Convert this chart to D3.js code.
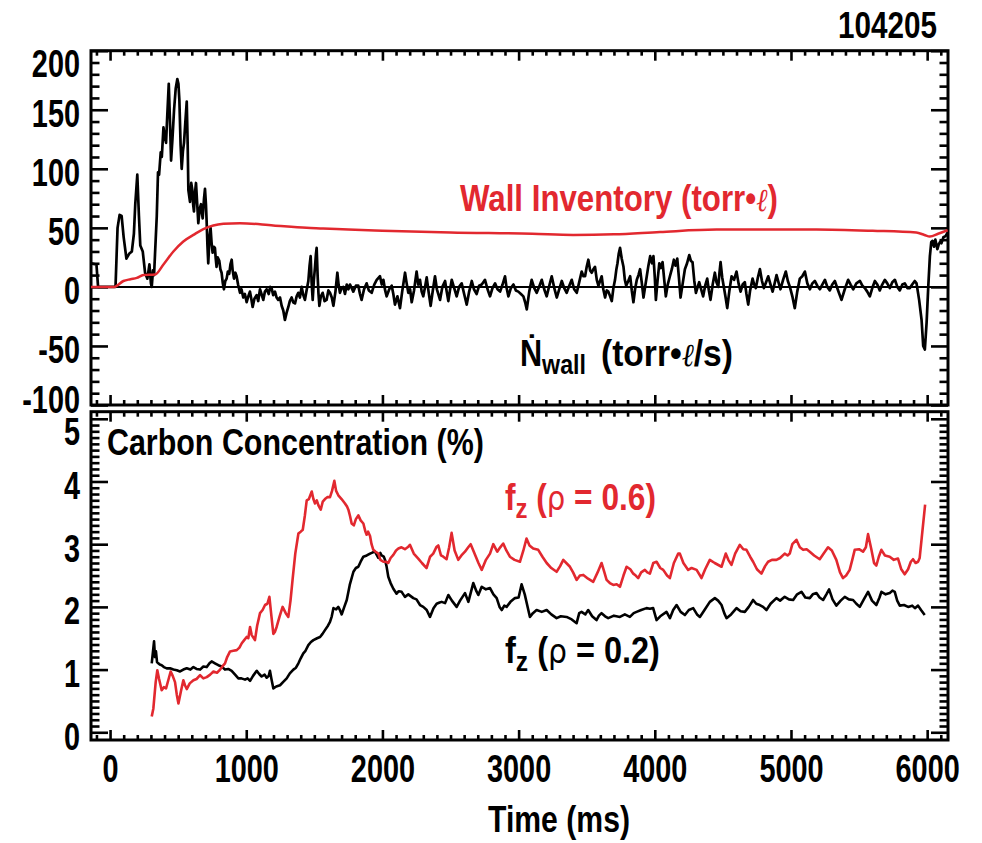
<!DOCTYPE html>
<html><head><meta charset="utf-8">
<script src="https://cdn.jsdelivr.net/npm/d3@7"></script>
<style>
html,body{margin:0;padding:0;background:#fff;}
svg text{font-family:"Liberation Sans Narrow","Arial Narrow","Liberation Sans",sans-serif;font-weight:bold;}
</style></head><body>
<svg id="c" width="982" height="843"></svg>
<script>
// ---------------- DATA ----------------
const shotLabel = "104205";
const xTickValues = [0, 1000, 2000, 3000, 4000, 5000, 6000];
const topYTicks = [-100, -50, 0, 50, 100, 150, 200];
const botYTicks = [0, 1, 2, 3, 4, 5];

// N-dot wall (torr·l/s)
const ndotTime = [-140,-100,-88,40,55,70,85,100,120,140,160,175,185,200,212,222,240,257,274,289,300,306,315,323,335,343,352,360,372,380,392,400,411,420,431,440,448,458,470,482,494,502,509,518,526,535,543,553,563,570,575,587,596,604,610,616,624,631,640,648,658,668,675,680,690,697,704,709,715,721,730,738,745,753,762,770,776,782,790,802,810,819,828,836,846,856,865,875,884,893,900,910,920,929,940,954,965,978,990,1003,1015,1027,1037,1047,1060,1076,1088,1101,1112,1125,1137,1150,1165,1176,1186,1198,1211,1223,1235,1248,1260,1272,1284,1296,1309,1320,1333,1345,1358,1370,1382,1394,1407,1419,1431,1443,1456,1465,1473,1480,1488,1496,1505,1512,1517,1524,1530,1537,1548,1561,1575,1590,1603,1615,1628,1640,1655,1669,1678,1688,1700,1713,1725,1738,1750,
1762,1786,1805,1823,1835,1847,1865,1884,1900,1921,1940,1958,1982,1995,2007,2020,2031,2050,2068,2080,2092,2110,2129,2145,2166,2178,2190,2203,2215,2232,2251,2263,2276,2288,2300,2313,2325,2340,2354,2370,2386,2400,2423,2440,2460,2472,2484,2497,2509,2527,2545,2563,2582,2600,2619,2637,2656,2672,2692,2710,2729,2741,2753,2772,2790,2808,2827,2845,2864,2882,2900,2912,2925,2943,2962,2980,2998,3017,3035,3048,3060,3078,3096,3115,3133,3150,3170,3188,3206,3225,3243,3262,3280,3298,3317,3335,3353,3372,3390,3408,3427,3445,3463,3476,3488,3500,3512,3525,3537,3549,3561,3574,3586,3598,3610,3622,3635,3647,3659,3672,3684,3696,3708,3718,3726,3735,3745,3757,3770,3780,3790,3805,3819,3831,3843,3855,3868,3880,3892,3905,3917,3929,3941,3953,3966,3980,3990,4000,4008,4020,4033,4045,4057,4070,4081,4095,4111,4125,4140,4152,4165,4177,4189,4205,4221,4237,4253,4265,4277,4290,4302,4315,4326,4340,4355,4370,4385,4397,4409,4425,4441,4453,4466,4475,4483,4495,4507,4520,4532,4548,4564,4582,4600,4615,4630,4645,4661,4673,4686,4700,4718,4730,4742,4757,4772,4787,4801,4817,4833,4850,4865,4880,4894,4908,4923,4942,4962,4977,4992,5010,5028,5046,5065,5083,5102,5120,5139,5157,5175,5193,5212,5230,5249,5267,5285,5303,5322,5346,5371,5395,5420,5438,5457,5480,5506,5524,5542,5560,5579,5597,5616,5634,5652,5670,5689,5707,5726,5744,5763,5781,5799,5818,5836,5855,5873,5890,5909,5922,5941,5959,5971,5983,5996,6008,6020,6030,6040,6050,6060,6075,6085,6094,6105,6119,6135,6150];
const ndotValue = [20,19,0,0,50,61,60,42,24,28,30,45,70,95,60,35,30,12,7,19,3,0,14,10,40,60,97,95,114,110,135,128,122,145,172,140,107,125,150,168,176,172,158,120,100,115,122,140,157,120,82,72,88,82,70,64,80,88,70,54,66,70,62,58,75,83,70,56,35,20,42,50,38,29,34,33,24,17,25,22,15,12,3,-2,5,7,13,11,19,23,14,7,12,9,2,-5,-2,-9,-6,-13,-8,-4,-10,-17,-10,-7,-12,-2,-6,-11,-4,-2,-6,0,-1,-7,-4,-9,-11,-9,-16,-20,-28,-22,-17,-12,-9,-13,-14,-8,-5,-9,0,-7,-11,-3,5,18,26,4,-11,5,17,28,33,10,-5,-16,-8,-5,-12,-11,-3,-5,-9,-16,-4,12,2,-5,-1,0,-6,2,-2,
2,-4,1,1,-6,-11,-2,3,-3,-5,2,6,9,2,6,-3,-8,-2,1,-6,-15,-8,-18,-4,12,3,-5,-2,-13,-3,13,2,6,-4,-8,0,8,-5,-16,-3,9,-2,-11,0,5,-4,-12,-2,6,-1,-8,0,3,-6,-15,-4,5,-2,-6,1,2,4,6,-2,-8,-1,3,-2,-4,2,9,-1,-8,-1,2,-3,-4,-6,-8,-13,-19,-4,6,-1,-5,0,6,-2,-8,1,9,-1,-9,-2,5,-1,-5,1,6,-2,-5,4,13,9,9,17,23,14,12,15,17,6,1,5,9,-2,-9,-3,-4,-8,-12,-1,6,15,20,28,33,24,17,6,1,5,9,-3,-13,-2,6,10,15,3,-9,0,9,18,26,20,26,8,-11,5,20,16,21,5,-8,2,9,15,23,18,24,8,-9,3,15,20,27,22,21,5,-5,0,4,-2,-8,1,7,-3,-11,2,12,4,0,12,21,8,0,-9,-18,-3,9,6,13,3,-4,2,4,-6,-15,-3,7,2,-1,8,15,5,-1,4,9,2,-4,3,10,4,-2,6,13,5,0,-8,-18,-4,7,9,13,3,-2,3,5,1,-2,2,6,0,-3,2,5,-3,-11,-2,6,2,-2,3,5,1,-1,-4,-8,-1,5,2,-3,2,6,3,-1,4,6,0,-3,2,3,-1,-1,2,5,3,-11,-28,-50,-53,-30,0,26,38,39,34,40,32,36,38,37,42,43,46];

// Wall inventory (torr·l)
const wallTime = [-140,30,98,150,196,245,330,392,465,538,612,685,758,832,954,1198,1443,1565,1750,2000,2500,3100,3400,3700,4038,4453,5187,5600,5920,5980,6020,6080,6150];
const wallValue = [0,0,5,6.5,7.6,10,10.5,19,30,38.5,44,49,52,53.4,54,52,50,49.5,48.5,47.5,46,45,44,44.5,46.5,48.5,48.6,47.5,46,44,42.7,45,48];

// Carbon concentration f_z (rho = 0.2)
const fz02Time = [306,323,330,337,345,354,365,379,395,416,440,465,490,514,538,563,590,612,635,661,685,710,730,746,770,795,820,844,868,893,918,942,965,991,1010,1028,1050,1077,1095,1113,1135,1150,1165,1174,1185,1199,1220,1248,1270,1297,1320,1346,1365,1383,1400,1419,1435,1456,1475,1493,1520,1542,1560,1578,1600,1615,1628,1640,1660,1676,1690,1701,1720,1738,1760,1787,1805,1823,1840,1860,1885,1909,1930,1946,1960,1970,1985,1994,2010,2019,2030,2043,2060,2080,2092,2104,2120,2141,2165,2190,2227,2250,2276,2300,2325,2349,2375,2398,2420,2435,2460,2484,2510,2545,2570,2606,2631,2667,2690,2704,2729,2760,2790,2815,2839,2860,2876,2895,2912,2940,2973,3000,3022,3045,3083,3105,3132,3170,3206,3240,3279,3310,3352,3390,3426,3445,3462,3490,3511,3540,3572,3590,3609,3635,3658,3700,3744,3780,3817,3845,3866,3900,3939,3964,3988,4013,4040,4086,4111,4135,4160,4190,4221,4250,4282,4310,4331,4365,4404,4441,4465,4490,4510,4527,4560,4600,4630,4661,4690,4722,4745,4771,4795,4820,4850,4893,4920,4954,4985,5016,5045,5077,5105,5138,5160,5187,5210,5236,5260,5280,5305,5333,5365,5395,5425,5456,5480,5505,5535,5566,5595,5627,5650,5664,5695,5725,5745,5762,5780,5799,5830,5860,5890,5910,5933,5955,5982];
const fz02Value = [1.10,1.45,1.2,1.29,1.12,1.10,1.08,1.07,1.04,1.02,1.02,1.0,0.99,0.97,1.0,1.02,1.0,1.04,1.01,1.0,1.05,1.04,1.10,1.13,1.1,1.07,1.05,1.0,1.01,0.98,0.92,0.86,0.86,0.84,0.86,0.82,0.9,0.98,0.93,0.89,0.92,0.87,0.9,0.98,0.85,0.70,0.73,0.75,0.80,0.86,0.94,1.0,1.03,1.10,1.18,1.26,1.3,1.39,1.44,1.47,1.5,1.52,1.57,1.63,1.7,1.76,1.85,1.98,1.96,2.0,1.94,1.88,2.0,2.11,2.35,2.56,2.62,2.64,2.72,2.80,2.82,2.85,2.87,2.88,2.82,2.78,2.86,2.82,2.8,2.75,2.65,2.48,2.38,2.29,2.25,2.21,2.25,2.24,2.16,2.2,2.14,2.12,2.03,2.0,1.95,1.84,1.98,2.05,2.07,2.08,2.06,2.19,2.1,2.00,2.1,2.22,2.08,2.38,2.25,2.19,2.32,2.28,2.30,2.2,2.14,2.0,1.95,2.02,2.0,2.08,2.14,2.15,2.36,2.2,1.84,1.9,1.95,1.92,1.95,1.88,1.82,1.85,1.84,1.8,1.74,1.9,1.92,1.88,1.95,1.85,1.79,1.86,1.90,1.85,1.82,1.86,1.84,1.88,1.84,1.9,1.92,1.95,1.98,1.97,1.98,1.79,1.85,1.92,1.82,1.95,2.03,1.92,1.87,1.95,1.98,1.88,1.84,1.95,2.08,2.14,2.1,2.03,1.9,1.82,1.88,1.98,1.93,1.92,2.0,2.11,2.05,2.03,2.0,1.95,2.05,2.14,2.1,2.16,2.12,2.11,2.2,2.24,2.15,2.14,2.2,2.22,2.15,2.11,2.2,2.28,2.12,2.02,2.1,2.16,2.12,2.11,2.05,2.00,2.12,2.24,2.1,2.03,2.15,2.24,2.2,2.22,2.26,2.24,2.1,2.02,2.03,2.0,2.02,1.98,2.02,1.95,1.87];

// Carbon concentration f_z (rho = 0.6)
const fz06Time = [306,318,335,347,360,379,395,411,430,445,460,477,490,502,520,538,550,563,585,612,635,661,685,710,735,759,785,808,825,844,860,881,905,930,950,967,985,1003,1015,1028,1040,1064,1080,1101,1120,1138,1155,1170,1185,1199,1210,1223,1245,1267,1290,1309,1325,1340,1360,1383,1400,1415,1430,1444,1460,1481,1493,1505,1518,1530,1547,1562,1578,1595,1615,1630,1647,1660,1676,1700,1725,1740,1750,1762,1774,1790,1805,1823,1840,1860,1875,1884,1895,1909,1920,1933,1950,1970,1985,2007,2025,2043,2060,2080,2100,2117,2140,2165,2190,2202,2230,2263,2290,2324,2350,2373,2398,2410,2430,2447,2471,2490,2508,2530,2557,2580,2606,2630,2648,2680,2705,2729,2760,2790,2814,2843,2865,2887,2910,2936,2970,3010,3035,3058,3080,3107,3144,3175,3206,3240,3279,3305,3328,3350,3377,3400,3426,3450,3475,3510,3548,3580,3609,3630,3646,3670,3695,3720,3744,3770,3793,3820,3842,3860,3878,3900,3927,3945,3964,3989,4013,4040,4062,4090,4111,4140,4172,4184,4210,4245,4270,4307,4343,4370,4404,4440,4490,4521,4540,4563,4590,4624,4650,4673,4700,4722,4750,4783,4810,4832,4860,4893,4920,4954,4975,4991,5010,5040,5065,5089,5115,5138,5170,5211,5240,5272,5300,5333,5360,5382,5405,5431,5450,5468,5500,5529,5550,5566,5590,5610,5627,5645,5664,5690,5725,5755,5786,5810,5835,5860,5880,5896,5915,5933,5945,5960,5985];
const fz06Value = [0.25,0.38,0.8,0.99,0.85,0.67,0.72,0.70,0.85,0.97,0.9,0.80,0.6,0.46,0.65,0.83,0.75,0.69,0.78,0.83,0.85,0.91,0.86,0.88,0.92,0.97,0.95,1.0,1.05,1.10,1.2,1.29,1.3,1.31,1.35,1.42,1.47,1.52,1.5,1.68,1.55,1.47,1.7,1.90,1.95,2.03,2.05,2.16,1.85,1.57,1.6,1.68,1.85,2.0,1.9,1.84,2.1,2.43,2.85,3.17,3.2,3.23,3.45,3.70,3.72,3.84,3.72,3.65,3.7,3.62,3.55,3.68,3.72,3.75,3.75,3.85,4.01,3.85,3.78,3.72,3.65,3.6,3.55,3.45,3.33,3.3,3.4,3.46,3.38,3.33,3.2,3.15,3.2,3.13,3.0,2.91,2.88,2.85,2.75,2.72,2.72,2.70,2.78,2.83,2.9,2.93,2.95,2.92,2.96,2.99,2.85,2.77,2.7,2.62,2.8,2.85,2.96,2.98,2.82,2.80,2.76,2.95,3.18,2.9,2.75,2.82,2.88,2.95,3.0,2.83,2.7,2.59,2.75,2.85,3.0,2.88,2.95,3.01,2.9,2.80,2.75,2.72,2.9,3.09,2.98,2.93,2.91,2.8,2.70,2.62,2.56,2.65,2.75,2.7,2.64,2.55,2.43,2.5,2.51,2.45,2.40,2.55,2.70,2.55,2.43,2.38,2.35,2.36,2.32,2.5,2.64,2.6,2.53,2.5,2.46,2.55,2.59,2.55,2.53,2.7,2.72,2.62,2.59,2.5,2.46,2.7,2.85,2.85,2.7,2.59,2.62,2.59,2.46,2.6,2.75,2.7,2.64,2.85,2.75,2.67,2.85,2.99,2.92,2.91,2.8,2.72,2.6,2.53,2.65,2.72,2.75,2.75,2.78,2.85,2.82,2.85,3.0,3.07,2.95,2.91,2.92,2.88,2.82,2.76,2.85,2.95,2.9,2.75,2.55,2.46,2.5,2.59,2.75,2.91,2.92,2.88,2.95,3.16,2.92,2.7,2.66,2.8,2.91,2.82,2.80,2.75,2.77,2.6,2.52,2.6,2.72,2.76,2.7,2.72,2.78,3.1,3.63];

// ---------------- DRAW ----------------
const RED = "#e2282f";
const FONT = '"Liberation Sans Narrow","Arial Narrow","Liberation Sans",sans-serif';
const svg = d3.select("#c");
const x = d3.scaleLinear().domain([-140, 6153]).range([91, 948]);
const yTop = d3.scaleLinear().domain([-100, 200]).range([405, 50.7]);
const yBot = d3.scaleLinear().domain([-0.123, 5.113]).range([740, 411.7]);

const FS = 36;
const TFS = 38;
const xMinor = d3.range(-100, 6101, 100).filter(v => v % 1000 !== 0);

function condense(node, k) {
  const ax = +(node.getAttribute("x") || 0);
  node.setAttribute("transform", `translate(${ax},0) scale(${k},1) translate(${-ax},0)`);
}
function fitWidth(node, target) {
  const w = node.getBBox().width;
  condense(node, target / w);
}

function drawPanel(y, yMajor, yMinor, showBottomLabels, id) {
  const [y0, y1] = y.range();
  const g = svg.append("g");
  const minorL = d3.axisLeft(y).tickValues(yMinor).tickSize(-8.5).tickFormat("");
  const minorR = d3.axisRight(y).tickValues(yMinor).tickSize(-8.5).tickFormat("");
  const minorT = d3.axisTop(x).tickValues(xMinor).tickSize(-5).tickFormat("");
  const minorB = d3.axisBottom(x).tickValues(xMinor).tickSize(-5).tickFormat("");
  g.append("g").attr("transform", `translate(${x.range()[0]},0)`).call(minorL);
  g.append("g").attr("transform", `translate(${x.range()[1]},0)`).call(minorR);
  g.append("g").attr("transform", `translate(0,${y1})`).call(minorT);
  g.append("g").attr("transform", `translate(0,${y0})`).call(minorB);
  const majL = d3.axisLeft(y).tickValues(yMajor).tickSize(-17).tickPadding(11).tickFormat(d => String(d));
  const majR = d3.axisRight(y).tickValues(yMajor).tickSize(-17).tickFormat("");
  const majT = d3.axisTop(x).tickValues(xTickValues).tickSize(-10).tickFormat("");
  const majB = d3.axisBottom(x).tickValues(xTickValues).tickSize(-10).tickPadding(15)
      .tickFormat(showBottomLabels ? (d => String(d)) : "");
  const gl = g.append("g").attr("transform", `translate(${x.range()[0]},0)`).call(majL);
  g.append("g").attr("transform", `translate(${x.range()[1]},0)`).call(majR);
  g.append("g").attr("transform", `translate(0,${y1})`).call(majT);
  g.append("g").attr("transform", `translate(0,${y0})`).call(majB);
  g.selectAll(".domain").remove();
  g.selectAll(".tick line").attr("stroke", "#000").attr("stroke-width", 2.6);
  g.selectAll("text").attr("font-size", TFS).attr("fill", "#000")
    .style("font-family", FONT).style("font-weight", "bold");
  gl.selectAll(".tick text").attr("dy", d => {
    const py = y(d);
    if (py > y0 - 3) return "7px";
    if (py < y1 + 12) return "26px";
    return "17px";
  });
  g.selectAll(".tick text").each(function () { condense(this, 0.76); });
  svg.append("rect").attr("x", x.range()[0]).attr("y", y1)
    .attr("width", x.range()[1] - x.range()[0]).attr("height", y0 - y1)
    .attr("fill", "none").attr("stroke", "#000").attr("stroke-width", 3);
  svg.append("clipPath").attr("id", id).append("rect")
    .attr("x", x.range()[0]).attr("y", y1)
    .attr("width", x.range()[1] - x.range()[0]).attr("height", y0 - y1);
}

drawPanel(yTop, topYTicks, d3.range(-100, 201, 10).filter(v => v % 50 !== 0), false, "clipTop");
drawPanel(yBot, botYTicks, d3.range(0, 51, 1).map(v => v / 10).filter((v, i) => i % 10 !== 0), true, "clipBot");

function series(tArr, vArr) { return tArr.map((t, i) => [t, vArr[i]]); }

svg.append("line").attr("x1", x.range()[0]).attr("x2", x.range()[1])
  .attr("y1", yTop(0)).attr("y2", yTop(0)).attr("stroke", "#000").attr("stroke-width", 2);

const lineTop = d3.line().x(d => x(d[0])).y(d => yTop(d[1]));
const lineBot = d3.line().x(d => x(d[0])).y(d => yBot(d[1]));

svg.append("path").datum(series(ndotTime, ndotValue)).attr("d", lineTop)
  .attr("fill", "none").attr("stroke", "#000").attr("stroke-width", 2.7)
  .attr("stroke-linejoin", "round").attr("clip-path", "url(#clipTop)");
svg.append("path").datum(series(wallTime, wallValue)).attr("d", d3.line().curve(d3.curveMonotoneX).x(d => x(d[0])).y(d => yTop(d[1])))
  .attr("fill", "none").attr("stroke", RED).attr("stroke-width", 2.5)
  .attr("clip-path", "url(#clipTop)");

svg.append("path").datum(series(fz02Time, fz02Value)).attr("d", lineBot)
  .attr("fill", "none").attr("stroke", "#000").attr("stroke-width", 2.6)
  .attr("stroke-linejoin", "round").attr("clip-path", "url(#clipBot)");
svg.append("path").datum(series(fz06Time, fz06Value)).attr("d", lineBot)
  .attr("fill", "none").attr("stroke", RED).attr("stroke-width", 2.6)
  .attr("stroke-linejoin", "round").attr("clip-path", "url(#clipBot)");

// ---------------- TEXT ----------------
function txt(xp, yp, s, opts = {}) {
  return svg.append("text").attr("x", xp).attr("y", yp).attr("font-size", opts.fs || FS)
    .attr("fill", opts.fill || "#000").attr("text-anchor", opts.anchor || "start").text(s);
}
const ell = sel => sel.append("tspan").style("font-family", '"DejaVu Serif",serif')
  .style("font-style", "italic").style("font-weight", "normal").attr("font-size", 32).text("\u2113");

const tShot = txt(937, 38, shotLabel, { anchor: "end", fs: 37 });
fitWidth(tShot.node(), 99);

const w = svg.append("text").attr("x", 460).attr("y", 211).attr("font-size", 37).attr("fill", RED);
w.append("tspan").text("Wall Inventory (torr\u2022");
ell(w);
w.append("tspan").text(")");
fitWidth(w.node(), 318);

const n1 = svg.append("text").attr("x", 520).attr("y", 366).attr("font-size", 37).attr("fill", "#000");
n1.append("tspan").text("\u1E44");
n1.append("tspan").attr("font-size", 28).attr("dy", 8).text("wall");
fitWidth(n1.node(), 66);
const n2 = svg.append("text").attr("x", 601).attr("y", 366).attr("font-size", 37).attr("fill", "#000");
n2.append("tspan").text("(torr\u2022");
ell(n2);
n2.append("tspan").text("/s)");
fitWidth(n2.node(), 132);

const tc = txt(107, 455, "Carbon Concentration (%)", { fs: 37 });
fitWidth(tc.node(), 377);

function fzLabel(xp, yp, rho, fill, width) {
  const t = svg.append("text").attr("x", xp).attr("y", yp).attr("font-size", 37).attr("fill", fill);
  t.append("tspan").text("f");
  t.append("tspan").attr("font-size", 28).attr("dy", 8).text("z");
  t.append("tspan").attr("dy", -8).text(" (");
  t.append("tspan").style("font-weight", "normal").style("font-family", '"DejaVu Sans",sans-serif').attr("font-size", 34).text("\u03C1");
  t.append("tspan").text(" = " + rho + ")");
  fitWidth(t.node(), width);
}
fzLabel(505, 510, "0.6", RED, 151);
fzLabel(505, 663, "0.2", "#000", 155);

const tt = txt(559, 832, "Time (ms)", { anchor: "middle", fs: 37 });
fitWidth(tt.node(), 142);
</script>
</body></html>
